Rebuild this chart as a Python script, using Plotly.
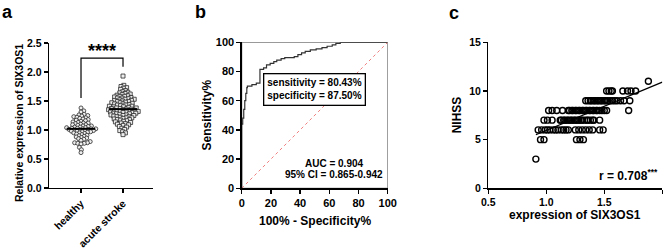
import numpy as np
import plotly.graph_objects as go

W, H = 669, 250
FONT = "Liberation Sans, Arial, sans-serif"


def fx(p):
    return p / W


def fy(p):
    return 1 - p / H


# ---------------- Panel a data ----------------
groups = ["healthy", "acute stroke"]
healthy = [1.38, 1.33, 1.31, 1.27, 1.26, 1.25, 1.24, 1.23, 1.22, 1.21, 1.20, 1.19, 1.18,
           1.17, 1.16, 1.15, 1.14, 1.13, 1.12, 1.12, 1.11, 1.10, 1.09, 1.09, 1.08, 1.07,
           1.07, 1.06, 1.05, 1.05, 1.04, 1.04, 1.03, 1.03, 1.02, 1.02, 1.02, 1.01, 1.01,
           1.00, 1.00, 0.99, 0.99, 0.98, 0.98, 0.97, 0.97, 0.96, 0.95, 0.95, 0.94, 0.93,
           0.92, 0.91, 0.90, 0.89, 0.88, 0.87, 0.86, 0.85, 0.84, 0.82, 0.80, 0.78, 0.78,
           0.77, 0.77, 0.76, 0.70, 0.66, 0.61]
stroke = [1.93, 1.77, 1.75, 1.73, 1.72, 1.70, 1.68, 1.66, 1.65, 1.64, 1.63, 1.62, 1.61,
          1.60, 1.59, 1.58, 1.58, 1.57, 1.56, 1.55, 1.55, 1.54, 1.53, 1.53, 1.52, 1.51,
          1.51, 1.50, 1.49, 1.49, 1.48, 1.47, 1.47, 1.46, 1.45, 1.45, 1.44, 1.43, 1.43,
          1.42, 1.41, 1.41, 1.40, 1.40, 1.39, 1.38, 1.38, 1.37, 1.37, 1.36, 1.36, 1.35,
          1.35, 1.34, 1.34, 1.33, 1.33, 1.32, 1.32, 1.31, 1.31, 1.30, 1.30, 1.29, 1.29,
          1.28, 1.28, 1.27, 1.26, 1.26, 1.25, 1.25, 1.24, 1.23, 1.23, 1.22, 1.21, 1.21,
          1.20, 1.19, 1.18, 1.18, 1.17, 1.16, 1.15, 1.14, 1.13, 1.12, 1.11, 1.10, 1.09,
          1.08, 1.06, 1.05, 1.03, 1.01, 0.99, 0.97, 0.95, 0.92]
bracket_low_left = 1.55
bracket_top = 2.24
bracket_low_right = 2.09
signif = "****"

# ---------------- Panel b data ----------------
roc_fpr = [0, 0, 0.7, 1.4, 2.1, 2.8, 3.5, 3.9, 7.0, 10.0, 12.5, 12.5, 15.0, 17.0, 19.5,
           22.0, 24.0, 27.0, 29.5, 36.0, 38.5, 41.0, 43.5, 47.0, 51.0, 55.0, 58.5, 62.0,
           64.5, 67.5, 72.0, 100]
roc_tpr = [0, 42, 44, 48, 54, 60, 65, 69, 70, 71, 72, 81, 81.5, 82.5, 84.5, 85.5, 86.8,
           87.8, 88.8, 89.5, 90.2, 91.5, 92.7, 93.8, 94.8, 95.5, 96.3, 97.3, 98.3, 99.2,
           100, 100]
sens_spec_text = ["sensitivity = 80.43%", "specificity = 87.50%"]
auc_text = "AUC = 0.904"
ci_text = "95% CI = 0.865-0.942"

# ---------------- Panel c data ----------------
nihss_levels = [3, 5, 6, 7, 8, 9, 10, 11]
expr_by_level = [
    [0.91],
    [0.95, 0.98, 1.26, 1.29, 1.32],
    [0.93, 0.96, 0.99, 1.01, 1.03, 1.06, 1.08, 1.10, 1.13, 1.15, 1.17, 1.19, 1.25, 1.28,
     1.31, 1.34, 1.37, 1.40, 1.46, 1.49],
    [0.98, 1.01, 1.05, 1.12, 1.13, 1.15, 1.16, 1.18, 1.19, 1.21, 1.22, 1.24, 1.25, 1.27,
     1.28, 1.30, 1.31, 1.33, 1.35, 1.36, 1.38, 1.40, 1.41, 1.46],
    [1.02, 1.05, 1.09, 1.14, 1.19, 1.20, 1.22, 1.23, 1.25, 1.26, 1.28, 1.29, 1.31, 1.32,
     1.34, 1.35, 1.37, 1.38, 1.40, 1.41, 1.43, 1.44, 1.46, 1.48, 1.50, 1.52, 1.71],
    [1.34, 1.36, 1.38, 1.39, 1.41, 1.42, 1.44, 1.45, 1.47, 1.48, 1.50, 1.51, 1.53, 1.55,
     1.57, 1.59, 1.61, 1.64, 1.67, 1.72],
    [1.52, 1.54, 1.56, 1.57, 1.66, 1.70, 1.73, 1.77],
    [1.88],
]
r_text = "r = 0.708"
r_sig = "***"

# ---------------- geometry (pixels) ----------------
A_X0, A_X1, A_Y0, A_Y1 = 49, 153, 43, 188
B_X0, B_X1, B_Y0, B_Y1 = 241.7, 387.7, 42.3, 188.3
C_X0, C_X1, C_Y0, C_Y1 = 488.3, 662.3, 42.3, 188.3
a_pos = [0, 1]
a_xrange = [-0.762, 1.714]
a_yrange = [0, 2.5]
c_xrange = [0.5, 2.0]


def swarm_offsets(vals, ypx, xpx, diam):
    vals = np.asarray(vals, float)
    order = np.argsort(vals)
    ys = vals * ypx
    xs = np.zeros(len(vals))
    steps = np.arange(0.4, 60, 0.4)
    cand = np.concatenate([[0.0], np.ravel(np.column_stack([steps, -steps]))])
    placed = []
    for i in order:
        if placed:
            P = np.array(placed)
            dy = ys[P] - ys[i]
            m = np.abs(dy) < diam
            if m.any():
                pxs = xs[P][m]
                dys = dy[m]
                d2 = (cand[:, None] - pxs[None, :]) ** 2 + dys[None, :] ** 2
                ok = (d2 >= diam ** 2).all(axis=1)
                xs[i] = cand[np.argmax(ok)]
        placed.append(i)
    return xs / xpx


a_xpx = (A_X1 - A_X0) / (a_xrange[1] - a_xrange[0])
a_ypx = (A_Y1 - A_Y0) / (a_yrange[1] - a_yrange[0])

fig = go.Figure()

# Panel a swarms
for pos, vals, sym in [(a_pos[0], healthy, "circle"), (a_pos[1], stroke, "square")]:
    off = swarm_offsets(vals, a_ypx, a_xpx, 2.9)
    fig.add_trace(go.Scatter(
        x=pos + off, y=vals, mode="markers", xaxis="x", yaxis="y",
        marker=dict(symbol=sym, size=4.0, color="#eeeeee",
                    line=dict(color="#2a2a2a", width=0.8)),
        showlegend=False, hoverinfo="skip"))
    med = float(np.median(vals))
    fig.add_trace(go.Scatter(
        x=[pos - 0.34, pos + 0.34], y=[med, med], mode="lines", xaxis="x", yaxis="y",
        line=dict(color="black", width=2), showlegend=False, hoverinfo="skip"))

# bracket
fig.add_trace(go.Scatter(
    x=[a_pos[0], a_pos[0], a_pos[1], a_pos[1]],
    y=[bracket_low_left, bracket_top, bracket_top, bracket_low_right],
    mode="lines", xaxis="x", yaxis="y", line=dict(color="black", width=1.2),
    showlegend=False, hoverinfo="skip"))

# Panel b
fig.add_trace(go.Scatter(
    x=[0, 100], y=[0, 100], mode="lines", xaxis="x2", yaxis="y2",
    line=dict(color="#ee7070", width=0.9, dash="dot"), showlegend=False, hoverinfo="skip"))
fig.add_trace(go.Scatter(
    x=roc_fpr, y=roc_tpr, mode="lines", xaxis="x2", yaxis="y2", line_shape="vh",
    line=dict(color="#333333", width=1.2), showlegend=False, hoverinfo="skip"))

# Panel c
cx, cy = [], []
for lvl, vals in zip(nihss_levels, expr_by_level):
    cx.extend(vals)
    cy.extend([lvl] * len(vals))
cx = np.array(cx)
cy = np.array(cy, float)
fig.add_trace(go.Scatter(
    x=cx, y=cy, mode="markers", xaxis="x3", yaxis="y3",
    marker=dict(symbol="circle-open", size=6, color="black", line=dict(width=1.4)),
    showlegend=False, hoverinfo="skip", cliponaxis=False))
slope, intercept = np.polyfit(cx, cy, 1)
lx = np.array([cx.min(), c_xrange[1]])
fig.add_trace(go.Scatter(
    x=lx, y=slope * lx + intercept, mode="lines", xaxis="x3", yaxis="y3",
    line=dict(color="black", width=1.3), showlegend=False, hoverinfo="skip"))

tf_b11 = dict(family=FONT, size=11, color="black", weight="bold")
tf_b10 = dict(family=FONT, size=10.5, color="black", weight="bold")
common = dict(showline=True, linecolor="black", linewidth=1.3, ticks="outside",
              ticklen=4, tickwidth=1.3, tickcolor="black", showgrid=False,
              zeroline=False, fixedrange=True, automargin=False)

layout = dict(
    width=W, height=H, autosize=False, margin=dict(l=0, r=0, t=0, b=0, pad=0),
    paper_bgcolor="white", plot_bgcolor="rgba(0,0,0,0)",
    xaxis=dict(domain=[fx(A_X0), fx(A_X1)], range=a_xrange, tickvals=a_pos,
               ticktext=groups, tickangle=-45, anchor="y", tickfont=tf_b10, **common),
    yaxis=dict(domain=[fy(A_Y1), fy(A_Y0)], range=a_yrange, dtick=0.5, tickformat=".1f",
               anchor="x", tickfont=tf_b10, **common),
    xaxis2=dict(domain=[fx(B_X0), fx(B_X1)], range=[0, 100], dtick=20, anchor="y2",
                tickfont=tf_b11, **common),
    yaxis2=dict(domain=[fy(B_Y1), fy(B_Y0)], range=[0, 100], dtick=20, anchor="x2",
                tickfont=tf_b11, **common),
    xaxis3=dict(domain=[fx(C_X0), fx(C_X1)], range=c_xrange, dtick=0.5, tickformat=".1f",
                anchor="y3", tickfont=tf_b10, **common),
    yaxis3=dict(domain=[fy(C_Y1), fy(C_Y0)], range=[0, 15], dtick=5, anchor="x3",
                tickfont=tf_b10, **common),
    showlegend=False,
)
fig.update_layout(**layout)

# top/right frame of ROC plot
fig.add_shape(type="rect", xref="x2", yref="y2", x0=0, y0=0, x1=100, y1=100,
              line=dict(color="#555555", width=1), layer="below")


def ann(text, x, y, size, weight="bold", xanchor="center", yanchor="middle", angle=0, **kw):
    fig.add_annotation(text=text, x=fx(x), y=fy(y), xref="paper", yref="paper",
                       showarrow=False, xanchor=xanchor, yanchor=yanchor, textangle=angle,
                       font=dict(family=FONT, size=size, color="black", weight=weight), **kw)


# panel letters
ann("a", 0, 0, 18, xanchor="left", yanchor="top")
ann("b", 193, 0, 18, xanchor="left", yanchor="top")
ann("c", 446.5, 0.5, 18, xanchor="left", yanchor="top")

# panel a texts
ann(signif, (A_X0 + (a_pos[0] - a_xrange[0]) * a_xpx + A_X0 + (a_pos[1] - a_xrange[0]) * a_xpx) / 2,
    51, 18)
ann("Relative expression of SIX3OS1", 19, 123, 10.5, angle=-90)

# panel b texts
ann("Sensitivity%", 206.5, 115, 12, angle=-90)
ann("100% - Specificity%", 314.5, 221, 12)
ann("<br>".join(sens_spec_text), 314, 89, 10, align="left", bordercolor="black",
    borderwidth=1.3, borderpad=3, bgcolor="white")
ann(auc_text, 334, 163, 10)
ann(ci_text, 334, 174, 10)

# panel c texts
ann("NIHSS", 457.3, 115, 12, angle=-90)
ann("expression of SIX3OS1", 574.7, 215, 12)
ann(r_text + "<sup>" + r_sig + "</sup>", 660, 175, 12, xanchor="right")

fig.write_html(
    "out.html",
    config={"displayModeBar": False, "staticPlot": True},
    post_script="document.body.style.margin='0';document.body.style.overflow='hidden';",
)
